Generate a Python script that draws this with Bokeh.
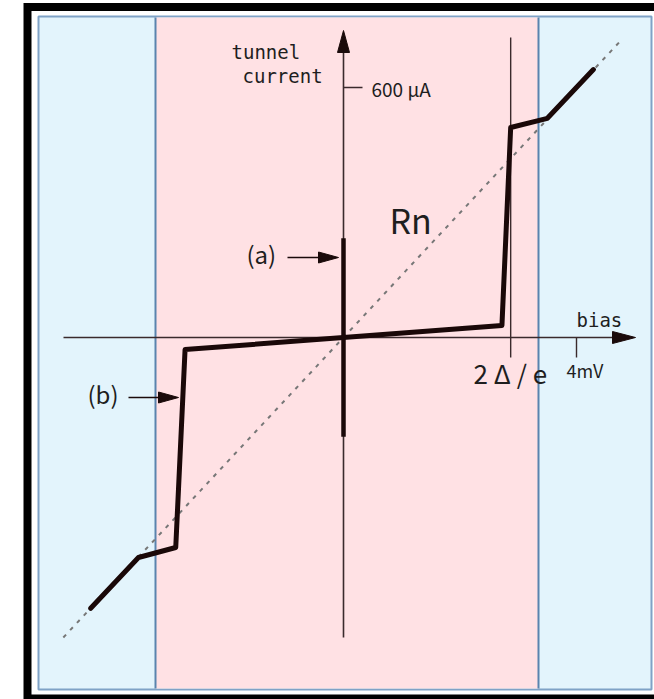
from bokeh.plotting import figure
from bokeh.models import Range1d
from bokeh.core.properties import value
from bokeh.embed import file_html
from bokeh.resources import INLINE

# I-V characteristic of a superconducting tunnel junction (bias in mV, current in uA)
bias_mv = [-4.34, -3.52, -2.88, -2.72, 2.72, 2.87, 3.50, 4.29]
current_ua = [-650, -528, -504, -29, 29, 504, 526, 643]

# Normal-state resistance line Rn
rn_bias_mv = [-4.81, 4.79]
rn_current_ua = [-720, 717]

# Josephson supercurrent at zero bias
josephson_bias_mv = [0.0, 0.0]
josephson_current_ua = [-238, 238]

gap_voltage_mv = 2.87      # 2 Delta / e
bias_tick_mv = 4.0
current_tick_ua = 600

# Canvas geometry: pixel position of the origin and scale factors
W, H = 654, 699
PX0, PY0 = 343.0, 337.0
SX = 58.25            # px per mV
SY = 250.0 / 600.0    # px per uA


def vx(px):
    return (px - PX0) / SX


def iy(py):
    return (PY0 - py) / SY


p = figure(width=W, height=H, output_backend="svg", toolbar_location=None,
           x_range=Range1d(vx(0), vx(W)), y_range=Range1d(iy(H), iy(0)),
           x_axis_type=None, y_axis_type=None, min_border=0,
           background_fill_color="white", border_fill_color="white")
p.outline_line_color = None
p.grid.visible = False

PINK = "#ffe1e4"
SKY = "#e3f4fc"
EDGE = "#5a84ae"
INK = "#3a2a2c"
CURVE = "#1a0808"
TXT = "#1e1e1e"

# Outer black frame
p.quad(left=vx(27), right=vx(660), top=iy(6.5), bottom=iy(698),
       fill_color=None, line_color="black", line_width=8, line_join="miter")

# Panel: normal-state (blue) sides and sub-gap (pink) middle
p.quad(left=vx(38), right=vx(651), top=iy(16), bottom=iy(689),
       fill_color=SKY, line_color="#7fa2c6", line_width=2)
p.quad(left=vx(155), right=vx(538), top=iy(17), bottom=iy(688),
       fill_color=PINK, line_color=None)
p.segment(x0=[vx(155), vx(538)], y0=[iy(17)] * 2, x1=[vx(155), vx(538)], y1=[iy(688)] * 2,
          line_color=EDGE, line_width=2)

# Rn dashed line
p.line(rn_bias_mv, rn_current_ua, line_color="#777777", line_width=2, line_dash="4 6")

# Axes
p.segment(x0=[vx(63)], y0=[0], x1=[vx(620)], y1=[0], line_color=INK, line_width=1.6)
p.segment(x0=[0], y0=[iy(637)], x1=[0], y1=[iy(45)], line_color=INK, line_width=1.6)


def head(tip_px, tip_py, direction, length, half):
    """Filled triangular arrowhead, given in pixel offsets."""
    x, y = tip_px, tip_py
    if direction == "right":
        pts = [(x, y), (x - length, y - half), (x - length, y + half)]
    else:  # up
        pts = [(x, y), (x - half, y + length), (x + half, y + length)]
    return [vx(a) for a, _ in pts], [iy(b) for _, b in pts]


for tip in [(635, 337, "right", 23, 6), (343, 30, "up", 22, 6),
            (338, 257, "right", 20, 5.5), (178, 397, "right", 20, 5.5)]:
    xs, ys = head(*tip)
    p.patch(xs, ys, fill_color="#1a0a0a", line_color="#1a0a0a", line_width=1)

# Pointer lines for (a) and (b)
p.segment(x0=[vx(287), vx(128)], y0=[iy(257), iy(397)], x1=[vx(322), vx(162)], y1=[iy(257), iy(397)],
          line_color="#1a0a0a", line_width=1.6)

# Ticks
p.segment(x0=[gap_voltage_mv], y0=[iy(37)], x1=[gap_voltage_mv], y1=[iy(357)],
          line_color=INK, line_width=1.4)
p.segment(x0=[bias_tick_mv], y0=[0], x1=[bias_tick_mv], y1=[iy(357)],
          line_color=INK, line_width=1.4)
p.segment(x0=[0], y0=[current_tick_ua], x1=[vx(362)], y1=[current_tick_ua],
          line_color=INK, line_width=1.4)

# I-V curve and supercurrent
p.line(bias_mv, current_ua, line_color=CURVE, line_width=5, line_join="round", line_cap="round")
p.line(josephson_bias_mv, josephson_current_ua, line_color=CURVE, line_width=4.5)


def label(px, py, text, size, font="DejaVu Sans Mono", color=TXT):
    p.text(x=[vx(px)], y=[iy(py)], text=[text], text_font=value(font),
           text_font_size=f"{size}px", text_color=color,
           text_align="left", text_baseline="middle")


GOTHIC = "Noto Sans CJK JP"
label(231, 51, "tunnel", 19)
label(242, 75, "current", 19)
label(371, 88, "600 μA", 19, font=GOTHIC)
label(389, 219, "Rn", 34, font=GOTHIC)
label(246, 253, "(a)", 24, font=GOTHIC)
label(87, 393, "(b)", 24, font=GOTHIC)
label(576, 319, "bias", 19)
label(566, 369, "4mV", 18, font=GOTHIC)
label(473, 372, "2 Δ / e", 26, font=GOTHIC)

open("out.html", "w").write(file_html(p, INLINE))
